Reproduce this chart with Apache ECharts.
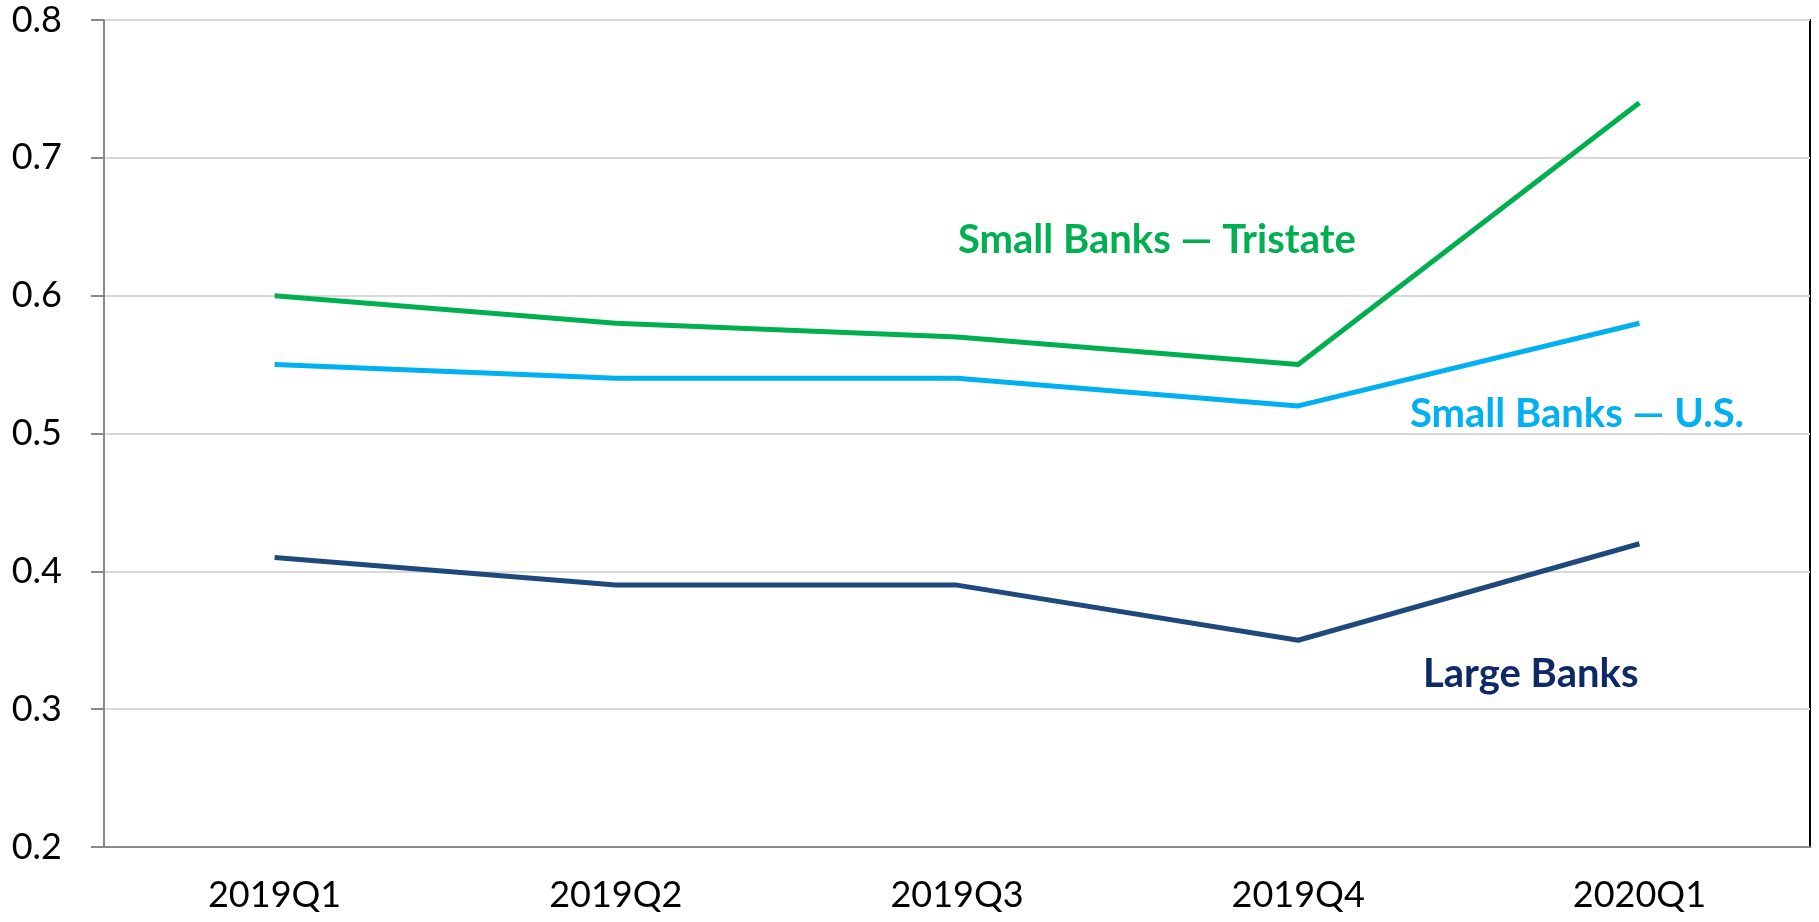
<!DOCTYPE html>
<html>
<head>
<meta charset="utf-8">
<script src="https://cdn.jsdelivr.net/npm/echarts@6/dist/echarts.min.js"></script>
<style>
  html, body { margin: 0; padding: 0; background: #fff; }
  #chart { width: 1819px; height: 922px; }
</style>
</head>
<body>
<div id="chart"></div>
<script>
const quarters = ["2019Q1", "2019Q2", "2019Q3", "2019Q4", "2020Q1"];
const smallTristate = [0.60, 0.58, 0.57, 0.55, 0.74];
const smallUS = [0.55, 0.54, 0.54, 0.52, 0.58];
const largeBanks = [0.41, 0.39, 0.39, 0.35, 0.42];
const yTicks = [0.2, 0.3, 0.4, 0.5, 0.6, 0.7, 0.8];

const FONT = "Lato";
const chart = echarts.init(document.getElementById("chart"));

function lineSerie(name, data, color) {
  return {
    name: name,
    type: "line",
    data: data,
    symbol: "none",
    smooth: false,
    lineStyle: { color: color, width: 5 },
    z: 5
  };
}

// series name labels sit inside the plot, like the original
function nameLabel(text, x, y, color) {
  return {
    type: "text",
    x: x,
    y: y,
    style: {
      text: text,
      fill: color,
      font: "bold 40px Lato",
      textAlign: "left",
      textVerticalAlign: "middle"
    }
  };
}

chart.setOption({
  animation: false,
  grid: {
    left: 104,
    top: 20,
    right: 9,
    bottom: 75,
    show: true,
    borderColor: "#000",
    borderWidth: 2,
    z: 0
  },
  xAxis: [
    {
      type: "category",
      data: quarters,
      boundaryGap: true,
      axisLine: { lineStyle: { color: "#898989", width: 2 } },
      axisTick: { alignWithLabel: true, length: 9, lineStyle: { color: "#898989", width: 2 } },
      axisLabel: { color: "#000", fontFamily: FONT, fontSize: 36, margin: 30 },
      splitLine: { show: false },
      z: 3
    },
    {
      // inner half of the crossing ticks
      type: "category",
      data: quarters,
      position: "bottom",
      boundaryGap: true,
      axisLine: { show: false },
      axisTick: { inside: true, alignWithLabel: true, length: 9, lineStyle: { color: "#898989", width: 2 } },
      axisLabel: { show: false },
      splitLine: { show: false }
    }
  ],
  yAxis: {
    type: "value",
    min: yTicks[0],
    max: yTicks[yTicks.length - 1],
    interval: 0.1,
    axisLine: { show: true, lineStyle: { color: "#898989", width: 2 } },
    axisTick: { show: true, length: 13, lineStyle: { color: "#898989", width: 2 } },
    axisLabel: {
      color: "#000",
      fontFamily: FONT,
      fontSize: 36,
      margin: 42,
      formatter: v => v.toFixed(1)
    },
    splitLine: { lineStyle: { color: "#d9d9d9", width: 2 } },
    z: 3
  },
  series: [
    lineSerie("Small Banks — Tristate", smallTristate, "#00b050"),
    lineSerie("Small Banks — U.S.", smallUS, "#00b0f0"),
    lineSerie("Large Banks", largeBanks, "#1f497d")
  ],
  graphic: [
    nameLabel("Small Banks — Tristate", 958, 240, "#00b050"),
    nameLabel("Small Banks — U.S.", 1410, 414, "#00b0f0"),
    nameLabel("Large Banks", 1423, 674, "#0e2a66")
  ]
});
</script>
</body>
</html>
